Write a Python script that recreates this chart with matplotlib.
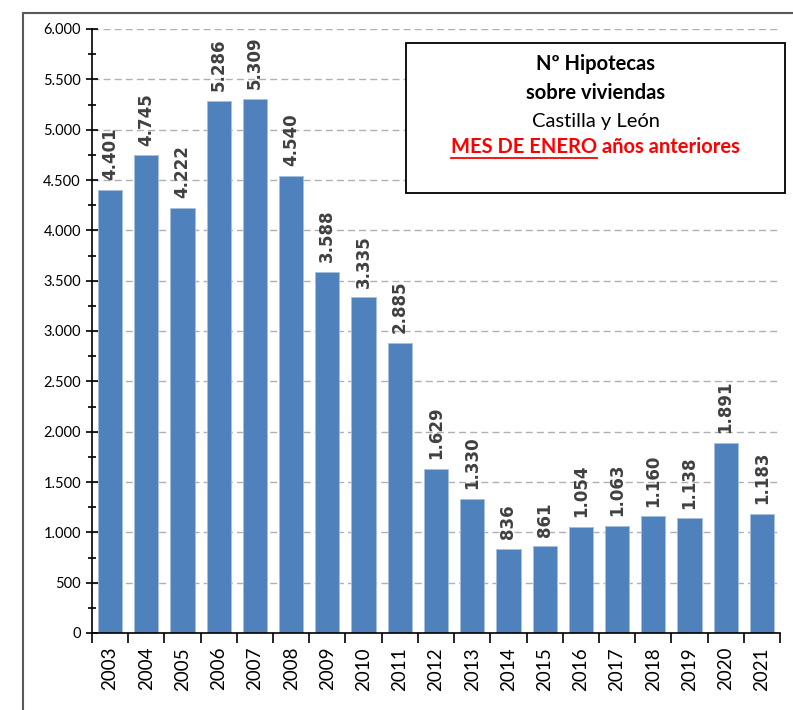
import matplotlib.pyplot as plt
from matplotlib.patches import Rectangle
from matplotlib.lines import Line2D
from matplotlib.ticker import FuncFormatter, MultipleLocator

# datos: hipotecas sobre viviendas, Castilla y León, mes de enero
years = [str(y) for y in range(2003, 2022)]
values = [4401, 4745, 4222, 5286, 5309, 4540, 3588, 3335, 2885, 1629,
          1330, 836, 861, 1054, 1063, 1160, 1138, 1891, 1183]


def miles(v, pos=None):
    return f"{int(v):,}".replace(",", ".")


fig = plt.figure(figsize=(7.93, 7.10), dpi=100)
ax = fig.add_axes([92 / 793, 1 - 633 / 710, 688 / 793, 604 / 710])

x = range(len(years))
ax.bar(x, values, width=0.67, color='#4F81BD', edgecolor='#A7BFDE',
       linewidth=0.6, zorder=2)

for i, v in enumerate(values):
    ax.annotate(miles(v), (i, v), xytext=(0, 7), textcoords='offset points',
                rotation=90, ha='center', va='bottom', fontsize=12,
                fontweight='bold', color='#404040', family='DejaVu Sans')

ax.set_xlim(-0.5, len(years) - 0.5)
ax.set_ylim(0, 6000)
ax.yaxis.set_major_locator(MultipleLocator(500))
ax.yaxis.set_minor_locator(MultipleLocator(250))
ax.yaxis.set_major_formatter(FuncFormatter(miles))
ax.grid(axis='y', which='major', linestyle=(0, (5, 3)), color='#B0B0B0',
        linewidth=1, zorder=0)

ax.set_xticks(list(x))
ax.set_xticklabels(years, rotation=90, fontsize=13.5, family='Lato')
ax.set_xticks([i - 0.5 for i in range(len(years) + 1)], minor=True)
ax.tick_params(axis='x', which='major', length=0, pad=10)
ax.tick_params(axis='x', which='minor', length=7, width=1.2, direction='out')
ax.tick_params(axis='y', which='both', direction='inout', width=1.2)
ax.tick_params(axis='y', which='major', length=8, labelsize=10.5, pad=4)
ax.tick_params(axis='y', which='minor', length=6)
for lab in ax.get_yticklabels():
    lab.set_family('Lato')

for s in ['top', 'right']:
    ax.spines[s].set_visible(False)
for s in ['left', 'bottom']:
    ax.spines[s].set_linewidth(1.2)
ax.set_axisbelow(True)

# marco exterior del gráfico
fig.patches.append(Rectangle((23 / 793, -0.1), 1.2, 1.1 - 13 / 710,
                             transform=fig.transFigure, fill=False,
                             edgecolor='#595959', linewidth=1.5))

# recuadro del título
bx0, bx1 = 406 / 793, 785 / 793
by0, by1 = 1 - 193 / 710, 1 - 43 / 710
fig.patches.append(Rectangle((bx0, by0), bx1 - bx0, by1 - by0,
                             transform=fig.transFigure, facecolor='white',
                             edgecolor='black', linewidth=1.3, zorder=5))
cx = (bx0 + bx1) / 2
fs = 14.5
fig.text(cx, 1 - 64 / 710, 'Nº Hipotecas', ha='center', va='center',
         fontsize=fs, fontweight='bold', family='Lato', zorder=6)
fig.text(cx, 1 - 93 / 710, 'sobre viviendas', ha='center', va='center',
         fontsize=fs, fontweight='bold', family='Lato', zorder=6)
fig.text(cx, 1 - 121 / 710, 'Castilla y León', ha='center', va='center',
         fontsize=fs, family='Lato', zorder=6)

# línea roja con parte subrayada
renderer = fig.canvas.get_renderer()
ly = 1 - 147 / 710
t1 = fig.text(0, ly, 'MES DE ENERO', ha='left', va='center', fontsize=fs,
              fontweight='bold', color='#FF0000', family='Lato', zorder=6)
t2 = fig.text(0, ly, ' años anteriores', ha='left', va='center', fontsize=fs,
              fontweight='bold', color='#FF0000', family='Lato', zorder=6)
w1 = t1.get_window_extent(renderer).width / fig.bbox.width
w2 = t2.get_window_extent(renderer).width / fig.bbox.width
start = cx - (w1 + w2) / 2
t1.set_x(start)
t2.set_x(start + w1)
uy = ly - 11 / 710
fig.lines.append(Line2D([start, start + w1], [uy, uy], transform=fig.transFigure,
                        color='#FF0000', linewidth=1.3, zorder=6))

fig.savefig('out.png', dpi=100)
